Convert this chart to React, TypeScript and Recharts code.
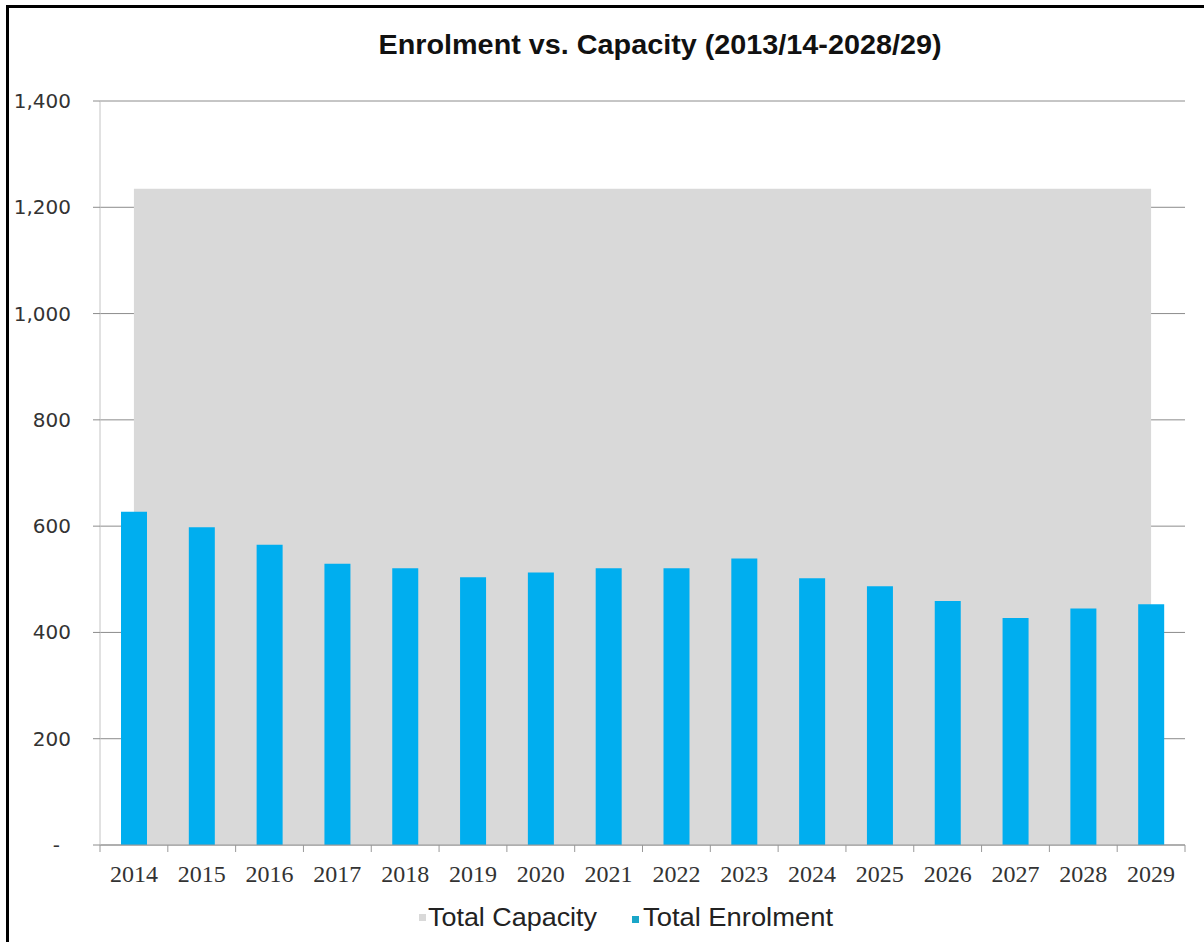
import {
  ComposedChart,
  Area,
  Bar,
  XAxis,
  YAxis,
  CartesianGrid,
  Legend,
} from "recharts";

const years = [
  "2014", "2015", "2016", "2017", "2018", "2019", "2020", "2021",
  "2022", "2023", "2024", "2025", "2026", "2027", "2028", "2029",
];
const totalEnrolment = [
  627, 598, 565, 529, 521, 504, 513, 521, 521, 539, 502, 487, 459, 427, 445, 453,
];
const totalCapacity = [
  1235, 1235, 1235, 1235, 1235, 1235, 1235, 1235,
  1235, 1235, 1235, 1235, 1235, 1235, 1235, 1235,
];
const yTicks = [0, 200, 400, 600, 800, 1000, 1200, 1400];

const data = years.map((year, i) => ({
  year,
  capacity: totalCapacity[i],
  enrolment: totalEnrolment[i],
}));

const W = 1204;
const H = 942;
const LEFT = 100;
const RIGHT = 19;
const BAND = (W - LEFT - RIGHT) / years.length;

const BLUE = "#00AEEF";
const GRAY = "#D9D9D9";

function XTick(props: any) {
  const { x, y, payload, index } = props;
  const top = y - 7;
  return (
    <g>
      <line x1={x - BAND / 2} x2={x - BAND / 2} y1={top} y2={top + 7} stroke="#999" />
      {index === years.length - 1 && (
        <line x1={x + BAND / 2} x2={x + BAND / 2} y1={top} y2={top + 7} stroke="#999" />
      )}
      <text
        x={x}
        y={y + 30}
        textAnchor="middle"
        fontFamily="'Liberation Serif', serif"
        fontSize={24}
        fill="#333"
      >
        {payload.value}
      </text>
    </g>
  );
}

function YTick(props: any) {
  const { x, y, payload } = props;
  const v = payload.value;
  return (
    <text
      x={v === 0 ? x - 11 : x}
      y={y + 7}
      textAnchor="end"
      fontFamily="'DejaVu Sans', sans-serif"
      fontSize={20}
      fill="#333"
    >
      {v === 0 ? "-" : v.toLocaleString("en-US")}
    </text>
  );
}

function renderLegend() {
  return (
    <svg width={W} height={40} style={{ display: "block" }}>
      <rect x={419} y={19} width={7} height={7} fill={GRAY} />
      <text
        x={428}
        y={31}
        fontFamily="'Liberation Sans', Arial, sans-serif"
        fontSize={26}
        fill="#222"
        textLength={169}
        lengthAdjust="spacingAndGlyphs"
      >
        Total Capacity
      </text>
      <rect x={632} y={21} width={7} height={7} fill="#1AA6C8" />
      <text
        x={643}
        y={31}
        fontFamily="'Liberation Sans', Arial, sans-serif"
        fontSize={26}
        fill="#222"
        textLength={190}
        lengthAdjust="spacingAndGlyphs"
      >
        Total Enrolment
      </text>
    </svg>
  );
}

export default function App() {
  return (
    <div
      style={{
        position: "fixed",
        left: 0,
        top: 0,
        width: W,
        height: H,
        background: "#fff",
        overflow: "hidden",
      }}
    >
      <ComposedChart
        width={W}
        height={H}
        data={data}
        margin={{ top: 101, right: RIGHT, left: 0, bottom: 0 }}
        barGap={0}
      >
        <CartesianGrid vertical={false} stroke="#8c8c8c" />
        <XAxis
          dataKey="year"
          height={97}
          stroke="#999"
          tickLine={false}
          tickSize={7}
          tickMargin={0}
          interval={0}
          tick={<XTick />}
        />
        <YAxis
          width={LEFT}
          domain={[0, 1400]}
          ticks={yTicks}
          interval={0}
          stroke="#c4c4c4"
          tickLine={{ stroke: "#8c8c8c" }}
          tickSize={7}
          tickMargin={22}
          tick={<YTick />}
        />
        <Area
          type="linear"
          dataKey="capacity"
          name="Total Capacity"
          stroke="none"
          fill={GRAY}
          fillOpacity={1}
          isAnimationActive={false}
        />
        <Bar
          dataKey="enrolment"
          name="Total Enrolment"
          fill={BLUE}
          barSize={26}
          isAnimationActive={false}
        />
        <Legend
          verticalAlign="middle"
          content={renderLegend}
          wrapperStyle={{ top: 895, left: 0, width: W }}
        />
      </ComposedChart>
      <svg
        width={W}
        height={80}
        style={{ position: "absolute", left: 0, top: 0, pointerEvents: "none" }}
      >
        <text
          x={660}
          y={54}
          textAnchor="middle"
          fontFamily="'Liberation Sans', Arial, sans-serif"
          fontWeight="bold"
          fontSize={27}
          fill="#111"
          textLength={563}
          lengthAdjust="spacingAndGlyphs"
        >
          Enrolment vs. Capacity (2013/14-2028/29)
        </text>
      </svg>
      <div
        style={{
          position: "absolute",
          left: 6,
          top: 5,
          width: W,
          height: H,
          borderLeft: "3px solid #000",
          borderTop: "3px solid #000",
          pointerEvents: "none",
        }}
      />
    </div>
  );
}
